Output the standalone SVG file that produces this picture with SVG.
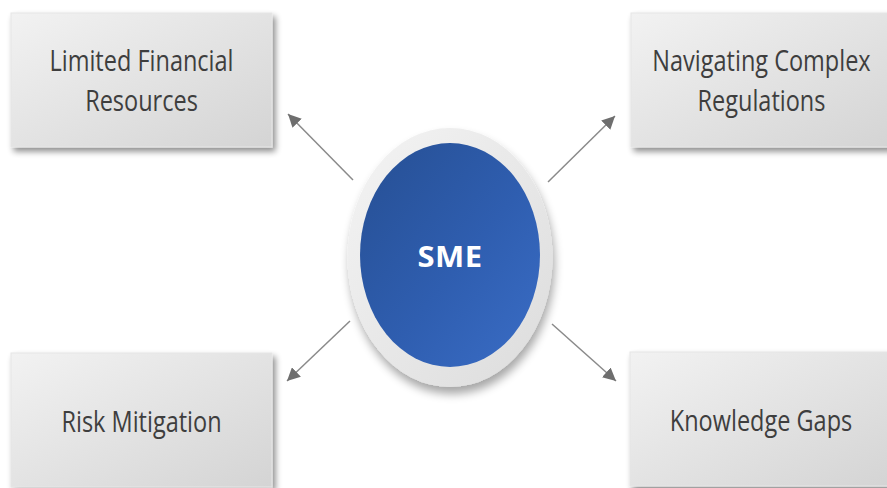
<svg xmlns="http://www.w3.org/2000/svg" width="887" height="488" viewBox="0 0 887 488">
  <defs>
    <linearGradient id="boxFill" x1="0" y1="0" x2="1" y2="1">
      <stop offset="0" stop-color="#f2f2f2"/>
      <stop offset="1" stop-color="#d4d4d4"/>
    </linearGradient>
    <linearGradient id="blueFill" x1="0" y1="0" x2="1" y2="1">
      <stop offset="0" stop-color="#264f93"/>
      <stop offset="0.55" stop-color="#2f5eb0"/>
      <stop offset="1" stop-color="#3a6dc6"/>
    </linearGradient>
    <linearGradient id="ringFill" x1="0" y1="0" x2="1" y2="1">
      <stop offset="0" stop-color="#f4f4f4"/>
      <stop offset="1" stop-color="#dcdcdc"/>
    </linearGradient>
    <filter id="boxShadow" x="-10%" y="-10%" width="125%" height="130%">
      <feGaussianBlur in="SourceAlpha" stdDeviation="3"/>
      <feOffset dx="3" dy="4" result="b"/>
      <feComponentTransfer><feFuncA type="linear" slope="0.45"/></feComponentTransfer>
      <feMerge><feMergeNode/><feMergeNode in="SourceGraphic"/></feMerge>
    </filter>
    <filter id="ballShadow" x="-20%" y="-20%" width="140%" height="145%">
      <feGaussianBlur in="SourceAlpha" stdDeviation="5"/>
      <feOffset dx="2" dy="7" result="b"/>
      <feComponentTransfer><feFuncA type="linear" slope="0.35"/></feComponentTransfer>
      <feMerge><feMergeNode/><feMergeNode in="SourceGraphic"/></feMerge>
    </filter>
    <marker id="head" viewBox="0 0 10 10" refX="10" refY="5" markerWidth="13" markerHeight="13" markerUnits="userSpaceOnUse" orient="auto">
      <path d="M0,0 L10,5 L0,10 Z" fill="#6e6e6e"/>
    </marker>
  </defs>
  <style>
    .box { fill: url(#boxFill); stroke: #e6e6e6; stroke-width: 1; filter: url(#boxShadow); }
    .label { font-family: "Open Sans", "Liberation Sans", sans-serif; font-size: 23.5px; fill: #3e3e3e; text-anchor: middle; }
    .conn { stroke: #8a8a8a; stroke-width: 1.5; fill: none; marker-end: url(#head); }
    .core { font-family: "Open Sans", "Liberation Sans", sans-serif; font-weight: bold; font-size: 31px; letter-spacing: 0.5px; fill: #ffffff; text-anchor: middle; }
  </style>

  <rect width="887" height="488" fill="#ffffff"/>

  <!-- connectors from the centre outwards -->
  <g id="connectors">
    <line class="conn" x1="353" y1="180" x2="288" y2="114"/>
    <line class="conn" x1="548" y1="182" x2="615" y2="116"/>
    <line class="conn" x1="350" y1="321" x2="287" y2="381"/>
    <line class="conn" x1="552" y1="324" x2="616" y2="381"/>
  </g>

  <g id="limited-financial-resources">
    <rect class="box" x="11" y="13" width="261" height="134"/>
    <g transform="translate(141.5 0) scale(1 1.25)">
      <text class="label" x="0" y="56.8">Limited Financial</text>
      <text class="label" x="0" y="88.8">Resources</text>
    </g>
  </g>

  <g id="navigating-complex-regulations">
    <rect class="box" x="631" y="13" width="261" height="134"/>
    <g transform="translate(761.5 0) scale(1 1.25)">
      <text class="label" x="0" y="56.8">Navigating Complex</text>
      <text class="label" x="0" y="88.8">Regulations</text>
    </g>
  </g>

  <g id="risk-mitigation">
    <rect class="box" x="11" y="353" width="261" height="134"/>
    <g transform="translate(141.5 0) scale(1 1.25)">
      <text class="label" x="0" y="345.6">Risk Mitigation</text>
    </g>
  </g>

  <g id="knowledge-gaps">
    <rect class="box" x="630" y="352" width="261" height="134"/>
    <g transform="translate(761 0) scale(1 1.25)">
      <text class="label" x="0" y="344.8">Knowledge Gaps</text>
    </g>
  </g>

  <g id="sme">
    <ellipse cx="450" cy="257.5" rx="102.5" ry="129.5" fill="url(#ringFill)" filter="url(#ballShadow)"/>
    <ellipse cx="450" cy="255" rx="90" ry="112" fill="url(#blueFill)"/>
    <g transform="translate(450 0) scale(1 0.93)">
      <text class="core" x="0" y="287.5">SME</text>
    </g>
  </g>
</svg>
